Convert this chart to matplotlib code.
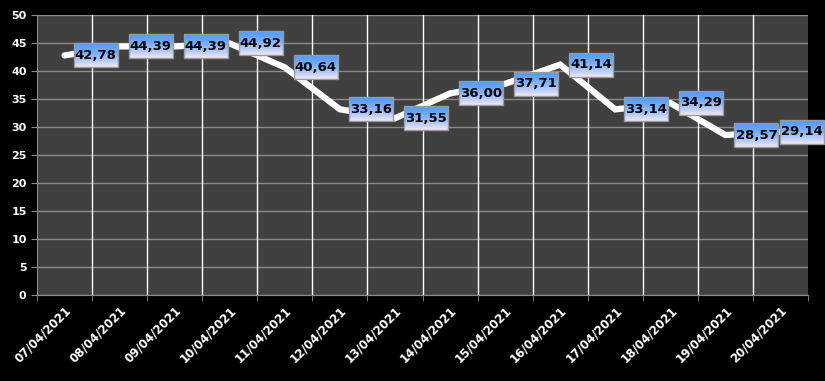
import numpy as np
import matplotlib
matplotlib.use("Agg")
from matplotlib import pyplot as plt
from matplotlib.patches import Rectangle

# Data ===================================================================
dates  = ["07/04/2021", "08/04/2021", "09/04/2021", "10/04/2021", "11/04/2021",
          "12/04/2021", "13/04/2021", "14/04/2021", "15/04/2021", "16/04/2021",
          "17/04/2021", "18/04/2021", "19/04/2021", "20/04/2021"]
values = [42.78, 44.39, 44.39, 44.92, 40.64, 33.16, 31.55,
          36.00, 37.71, 41.14, 33.14, 34.29, 28.57, 29.14]
yticks = list(range(0, 55, 5))

# Figure =================================================================
W, H = 825, 381
fig = plt.figure(figsize=(W/100, H/100), dpi=100, facecolor="black")
ax  = fig.add_axes([37/W, 86/H, 771/W, 280/H], facecolor="#404040")

n = len(values)
x = np.arange(n)

# grid: horizontal gray, vertical white at category boundaries
for yv in yticks:
    ax.axhline(yv, color="#8a8a8a", lw=1, zorder=1)
for b in np.arange(0.5, n - 0.5, 1):
    ax.axvline(b, color="white", lw=1, zorder=1)

ax.plot(x, values, color="white", lw=4.5, solid_joinstyle="miter",
        solid_capstyle="round", zorder=3)

for s in ["top", "right"]:
    ax.spines[s].set_visible(False)
for s in ["left", "bottom"]:
    ax.spines[s].set_color("#8a8a8a")

ax.set_yticks(yticks)
ax.set_yticklabels([str(v) for v in yticks], fontweight="bold", fontsize=8)
ax.tick_params(axis="y", colors="#8a8a8a", length=4, labelcolor="white")

ax.set_xticks(x)
ax.set_xticklabels(dates, rotation=45, ha="right", rotation_mode="anchor",
                   color="white", fontweight="bold", fontsize=8.5)
ax.tick_params(axis="x", length=0, pad=6)
# tick marks on the category boundaries
ax.set_xticks(np.arange(-0.5, n, 1), minor=True)
ax.tick_params(axis="x", which="minor", length=4, color="#8a8a8a")

# Data labels with gradient boxes ========================================
px_x = 771 / n           # pixels per category
px_y = 280 / 50          # pixels per unit
bw, bh, off = 44 / px_x, 24 / px_y, 9 / px_x
g = np.linspace(0, 1, 64)[:, None, None] ** 1.6
top = np.array([0.33, 0.62, 0.98])
bot = np.array([0.96, 0.91, 0.97])
img = top * (1 - g) + bot * g   # row 0 at top

xmax_fig = (W - 1 - 37) / px_x - 0.5
for xi, v in zip(x, values):
    x0 = xi + off
    if x0 + bw > xmax_fig:
        x0 = xmax_fig - bw
    y0 = v - bh / 2
    ax.imshow(img, extent=(x0, x0 + bw, y0, y0 + bh), aspect="auto",
              zorder=4, clip_on=False, interpolation="bilinear")
    ax.add_patch(Rectangle((x0, y0), bw, bh, fill=False, ec="#9a9a9a",
                           lw=1, zorder=5, clip_on=False))
    ax.text(x0 + bw / 2, v, f"{v:.2f}".replace(".", ","), ha="center",
            va="center", fontsize=9.5, fontweight="bold", color="black",
            family="DejaVu Sans", zorder=6, clip_on=False)

ax.set_xlim(-0.5, n - 0.5)
ax.set_ylim(0, 50)

fig.savefig("out.png", dpi=100, facecolor="black")
